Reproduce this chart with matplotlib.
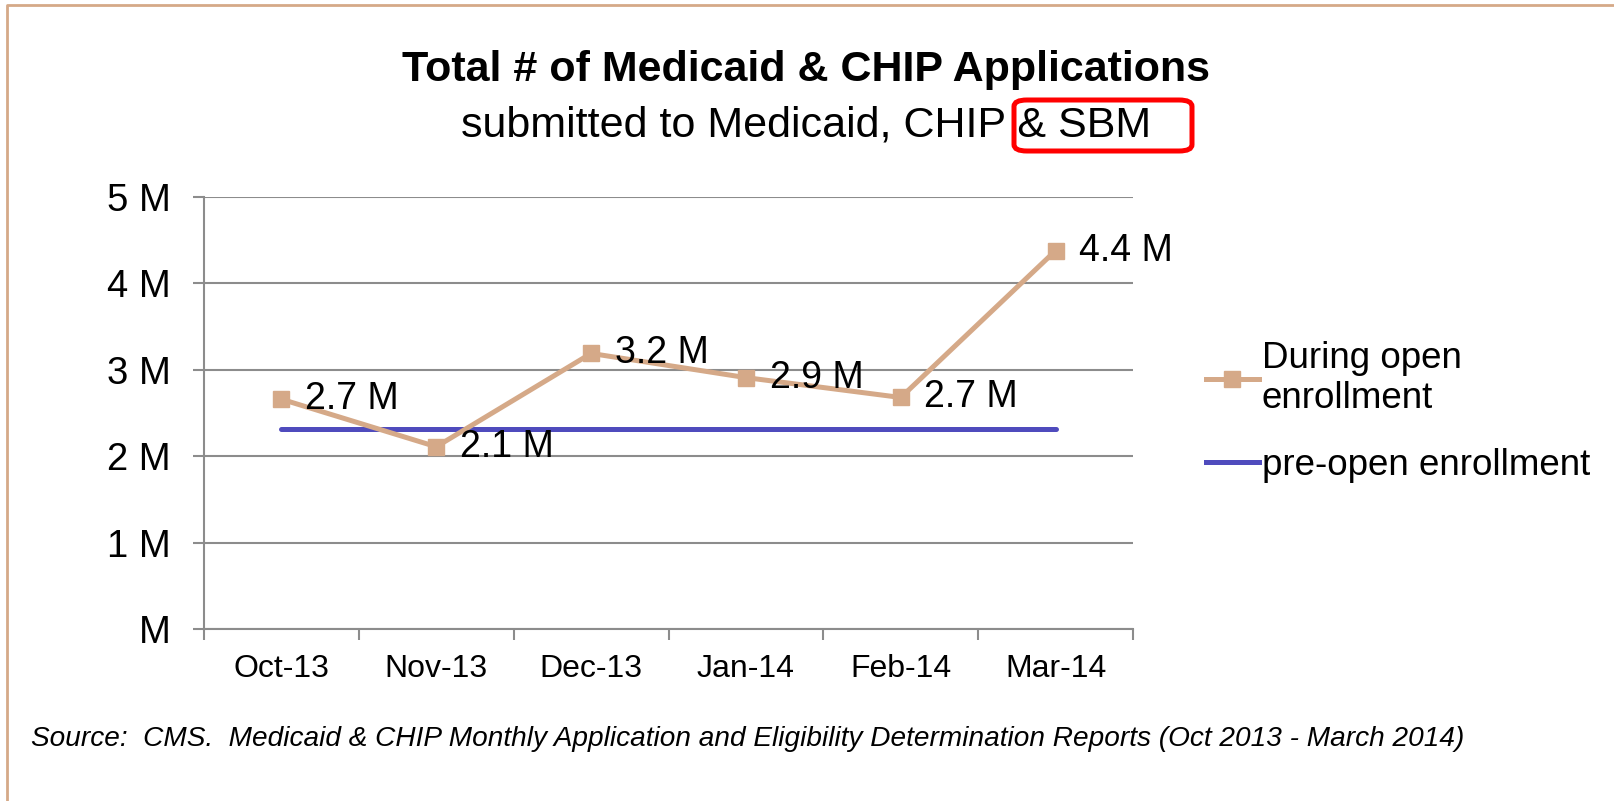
import matplotlib
matplotlib.use('Agg')
import matplotlib.pyplot as plt
from matplotlib.lines import Line2D
from matplotlib.patches import FancyBboxPatch

plt.rcParams['font.family'] = ['Liberation Sans', 'DejaVu Sans']

# Data
months = ['Oct-13', 'Nov-13', 'Dec-13', 'Jan-14', 'Feb-14', 'Mar-14']
during_open = [2.66, 2.11, 3.19, 2.91, 2.68, 4.38]   # millions
pre_open = [2.31, 2.31, 2.31, 2.31, 2.31, 2.31]       # millions
y_ticks = [0, 1, 2, 3, 4, 5]
y_tick_labels = ['M', '1 M', '2 M', '3 M', '4 M', '5 M']

tan = '#D5A988'
blue = '#4F4BBD'
grid_gray = '#8C8C8C'

fig = plt.figure(figsize=(16.14, 8.01), dpi=100)
ax = fig.add_axes([0.1264, 0.2147, 0.5756, 0.5393])

x = list(range(len(months)))

ax.plot(x, pre_open, color=blue, lw=3.6, solid_capstyle='round', zorder=3)
ax.plot(x, during_open, color=tan, lw=3.6, marker='s', markersize=12,
        markeredgecolor=tan, zorder=4)

# Data labels to the right of each point
for xi, v in zip(x, during_open):
    ax.annotate(f'{v:.1f} M', xy=(xi, v), xytext=(17, 0), textcoords='offset points',
                ha='left', va='center', fontsize=27, color='black', zorder=5)

ax.set_xlim(-0.5, len(months) - 0.5)
ax.set_ylim(0, 5)

ax.set_yticks(y_ticks)
ax.set_yticklabels(y_tick_labels, fontsize=27.5)
ax.tick_params(axis='y', length=8, width=1.5, color=grid_gray, pad=16)

ax.set_xticks(x)
ax.set_xticklabels(months, fontsize=23)
ax.set_xticks([i - 0.5 for i in range(len(months) + 1)], minor=True)
ax.tick_params(axis='x', which='major', length=0, pad=18)
ax.tick_params(axis='x', which='minor', length=8, width=1.5, color=grid_gray)

ax.yaxis.grid(True, color=grid_gray, lw=1.5)
ax.set_axisbelow(True)
for side in ['top', 'right']:
    ax.spines[side].set_visible(False)
for side in ['left', 'bottom']:
    ax.spines[side].set_color(grid_gray)
    ax.spines[side].set_linewidth(1.5)

# Legend
handles = [Line2D([], [], color=tan, lw=3.6, marker='s', markersize=12),
           Line2D([], [], color=blue, lw=3.6)]
fig.legend(handles, ['During open\nenrollment', 'pre-open enrollment'],
           loc='center left', bbox_to_anchor=(0.747, 0.486), frameon=False,
           fontsize=26.5, handlelength=1.45, handletextpad=0.08, labelspacing=0.85,
           borderpad=0, borderaxespad=0)

# Titles
fig.text(0.4995, 0.912, 'Total # of Medicaid & CHIP Applications', ha='center', va='center',
         fontsize=31, fontweight='bold')
fig.text(0.4995, 0.843, 'submitted to Medicaid, CHIP & SBM', ha='center', va='center',
         fontsize=31)

# Red highlight box around "& SBM"
box = FancyBboxPatch((1014 / 1614, 1 - 151 / 801), 178 / 1614, 51 / 801,
                     boxstyle='round,pad=0,rounding_size=0.008',
                     transform=fig.transFigure, fill=False, edgecolor='#FF0000',
                     lw=3.6, zorder=10)
fig.patches.append(box)

# Source note
fig.text(31 / 1614, 1 - 739 / 801,
         'Source:  CMS.  Medicaid & CHIP Monthly Application and Eligibility Determination Reports (Oct 2013 - March 2014)',
         ha='left', va='center', fontsize=20.2, style='italic')

# Border lines (top and left)
fig.add_artist(Line2D([7 / 1614, 7 / 1614, 1.0], [0.0, 1 - 5 / 801, 1 - 5 / 801],
                      transform=fig.transFigure, color=tan, lw=2))

fig.savefig('out.png', dpi=100, facecolor='white')
